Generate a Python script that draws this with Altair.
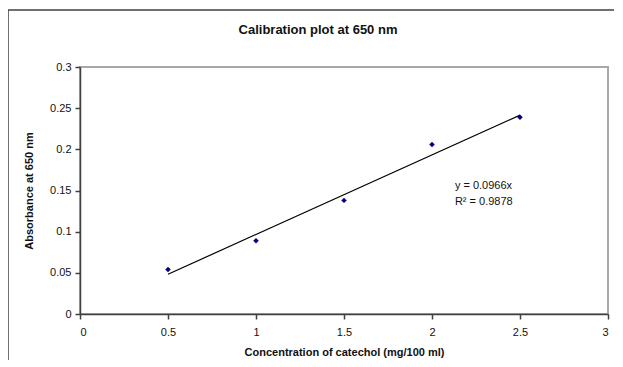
import altair as alt
import pandas as pd

# Data
conc = [0.5, 1.0, 1.5, 2.0, 2.5]
absorbance = [0.054, 0.089, 0.138, 0.206, 0.239]

trend_x = [0.5, 2.5]
trend_y = [0.0483, 0.2415]

eq_lines = ["y = 0.0966x", "R² = 0.9878"]
eq_x = [2.13, 2.13]
eq_y = [0.155, 0.1355]

chart_title = "Calibration plot at 650 nm"

pts = pd.DataFrame({"x": conc, "y": absorbance})
trend = pd.DataFrame({"x": trend_x, "y": trend_y})
eq = pd.DataFrame({"x": eq_x, "y": eq_y, "t": eq_lines})

FONT = "Liberation Sans"

xscale = alt.Scale(domain=[0, 3], nice=False)
yscale = alt.Scale(domain=[0, 0.3], nice=False)

xaxis = alt.Axis(
    title="Concentration of catechol (mg/100 ml)",
    values=[0, 0.5, 1, 1.5, 2, 2.5, 3],
    format="~g",
    grid=False,
    tickSize=5,
    labelPadding=7,
    titlePadding=9,
)
yaxis = alt.Axis(
    title="Absorbance at 650 nm",
    values=[0, 0.05, 0.1, 0.15, 0.2, 0.25, 0.3],
    format="~g",
    grid=False,
    tickSize=5,
    labelPadding=4,
    titlePadding=15,
)

points = alt.Chart(pts).mark_point(
    shape="diamond", filled=True, color="#000080", size=30, opacity=1
).encode(
    x=alt.X("x:Q", scale=xscale, axis=xaxis),
    y=alt.Y("y:Q", scale=yscale, axis=yaxis),
)

line = alt.Chart(trend).mark_line(color="#000000", strokeWidth=1.2).encode(
    x=alt.X("x:Q", scale=xscale),
    y=alt.Y("y:Q", scale=yscale),
)

text = alt.Chart(eq).mark_text(
    align="left", baseline="middle", font=FONT, fontSize=11, color="#111111"
).encode(
    x=alt.X("x:Q", scale=xscale),
    y=alt.Y("y:Q", scale=yscale),
    text="t:N",
)

one = pd.DataFrame({"a": [0]})

# chart title (centred on the whole chart frame, as in the reference)
title = alt.Chart(pd.DataFrame({"t": [chart_title]})).mark_text(
    font=FONT, fontSize=13, fontWeight="bold", color="#111111",
    align="center", baseline="middle"
).encode(x=alt.value(238), y=alt.value(-37), text="t:N")

# outer chart frame (top and left edges visible in the reference)
frame_top = alt.Chart(one).mark_rule(
    color="#404040", strokeWidth=1.5
).encode(x=alt.value(-72), x2=alt.value(540), y=alt.value(-57))
frame_left = alt.Chart(one).mark_rule(
    color="#404040", strokeWidth=1.5
).encode(x=alt.value(-72), y=alt.value(-57), y2=alt.value(300))

chart = (
    alt.layer(frame_top, frame_left, title, line, points, text)
    .properties(
        width=528,
        height=247,
        padding={"left": 72, "top": 59, "right": 6, "bottom": 46},
        autosize=alt.AutoSizeParams(type="none"),
    )
    .configure_view(stroke="#a8a8a8", strokeWidth=2)
    .configure_axis(
        labelFont=FONT,
        labelFontSize=11,
        labelColor="#111111",
        titleFont=FONT,
        titleFontSize=11,
        titleFontWeight="bold",
        titleColor="#111111",
        domainColor="#404040",
        domainWidth=1.5,
        tickColor="#404040",
        tickWidth=1.5,
    )
)

chart.save("out.html", embed_options={"renderer": "svg", "actions": False})
